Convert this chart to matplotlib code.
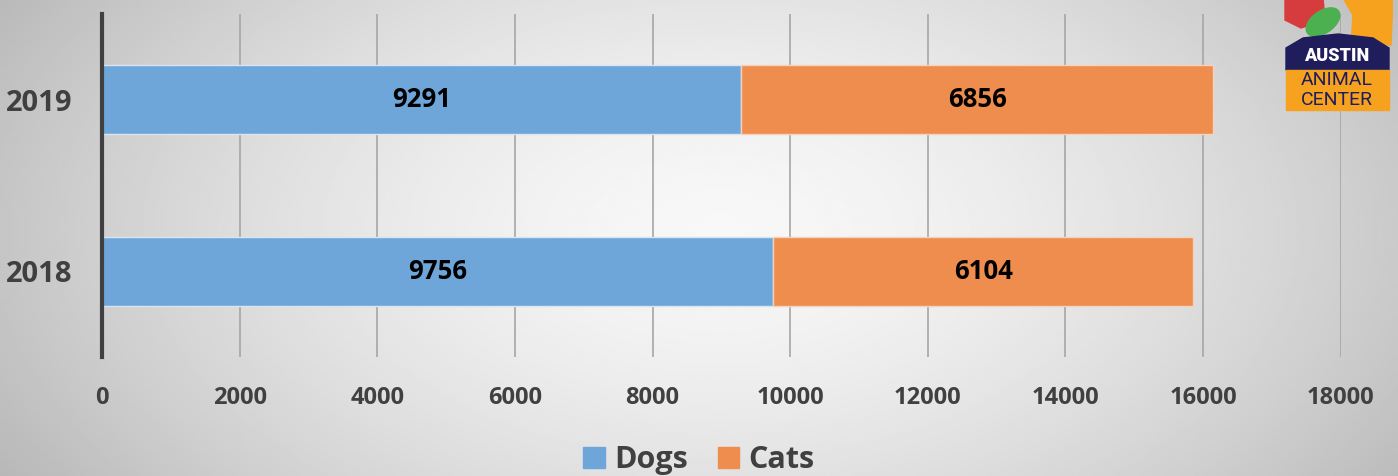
import numpy as np
import matplotlib.pyplot as plt
from matplotlib.patches import Rectangle, Ellipse, Polygon

years = ['2018', '2019']
dogs = [9756, 9291]
cats = [6104, 6856]
xticks = [0, 2000, 4000, 6000, 8000, 10000, 12000, 14000, 16000, 18000]

blue = '#6FA6D9'
orange = '#EF8D4E'
txt = '#404040'

plt.rcParams['font.family'] = ['Open Sans', 'DejaVu Sans']
plt.rcParams['font.weight'] = 'bold'

fig = plt.figure(figsize=(13.98, 4.76), dpi=100)

# radial background
bg = fig.add_axes([0, 0, 1, 1], zorder=-10)
xx, yy = np.meshgrid(np.linspace(0, 1398, 400), np.linspace(0, 476, 200))
r = np.sqrt(((xx - 720) / 900) ** 2 + ((yy - 230) / 520) ** 2)
shade = np.clip(0.97 - 0.28 * r ** 1.6, 0.72, 0.97)
bg.imshow(shade, cmap='gray', vmin=0, vmax=1, extent=[0, 1398, 476, 0], aspect='auto')
bg.axis('off')

ax = fig.add_axes([0.073, 0.25, 0.886, 0.721])
ax.patch.set_alpha(0)
y = np.arange(len(years))
ax.barh(y, dogs, height=0.4, color=blue, edgecolor='#d8e6f4', linewidth=1, zorder=3)
ax.barh(y, cats, left=dogs, height=0.4, color=orange, edgecolor='#f5d2bc', linewidth=1, zorder=3)
for i in range(len(years)):
    ax.text(dogs[i] / 2, y[i], str(dogs[i]), ha='center', va='center',
            fontsize=18.5, fontweight='bold', color='black', zorder=4)
    ax.text(dogs[i] + cats[i] / 2, y[i], str(cats[i]), ha='center', va='center',
            fontsize=18.5, fontweight='bold', color='black', zorder=4)

ax.set_xlim(0, 18000)
ax.set_ylim(-0.5, 1.5)
ax.set_xticks(xticks)
ax.set_xticklabels([str(t) for t in xticks], fontweight='bold')
ax.set_yticks(y)
ax.set_yticklabels(years, fontweight='bold')
ax.tick_params(axis='x', length=0, pad=21, labelsize=17, labelcolor=txt)
ax.tick_params(axis='y', length=0, pad=21, labelsize=21, labelcolor=txt)
ax.grid(axis='x', color='#a6a6a6', linewidth=1.2, zorder=0)
ax.set_axisbelow(True)
for s in ['top', 'right', 'bottom']:
    ax.spines[s].set_visible(False)
ax.spines['left'].set_color('#404040')
ax.spines['left'].set_linewidth(3)
ax.spines['left'].set_zorder(5)

leg = fig.legend(handles=[Rectangle((0, 0), 1, 1, color=blue), Rectangle((0, 0), 1, 1, color=orange)],
                 labels=['Dogs', 'Cats'], loc='center', bbox_to_anchor=(0.5, 0.033),
                 ncol=2, frameon=False, handlelength=0.7, handleheight=0.7,
                 handletextpad=0.3, columnspacing=1.0,
                 prop={'size': 22, 'weight': 'bold'})
for t in leg.get_texts():
    t.set_color(txt)

# logo approximation
lg = fig.add_axes([1283 / 1398, 1 - 112 / 476, 110 / 1398, 112 / 476])
lg.set_xlim(0, 110)
lg.set_ylim(112, 0)
lg.axis('off')
lg.add_patch(Polygon([[2, -2], [40, -2], [42, 20], [18, 28], [2, 20]], color='#d63b3e'))
lg.add_patch(Ellipse((40, 22), 38, 22, angle=-35, color='#4caf50'))
lg.add_patch(Polygon([[60, -2], [110, -2], [108, 45], [68, 45], [70, 15]], color='#f6a21f'))
lg.add_patch(Polygon([[3, 48], [20, 38], [55, 34], [90, 38], [106, 48], [106, 70], [3, 70]], color='#1f1d5c'))
lg.add_patch(Rectangle((3, 70), 103, 40, color='#f6a21f'))
lg.text(54, 56, 'AUSTIN', ha='center', va='center', color='white', fontsize=13,
        fontweight='heavy', family=['Roboto', 'DejaVu Sans'])
lg.text(54, 80, 'ANIMAL', ha='center', va='center', color='#1f1d5c', fontsize=14,
        fontweight='normal', family=['Roboto', 'DejaVu Sans'])
lg.text(54, 100, 'CENTER', ha='center', va='center', color='#1f1d5c', fontsize=14,
        fontweight='normal', family=['Roboto', 'DejaVu Sans'])

fig.savefig('out.png', dpi=100)
